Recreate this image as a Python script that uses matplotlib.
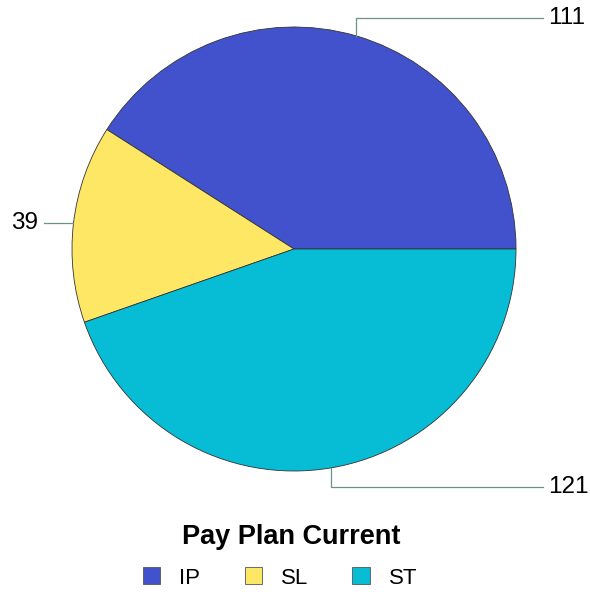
import numpy as np
import matplotlib
matplotlib.use("Agg")
import matplotlib.pyplot as plt

plt.rcParams['font.family'] = ['Liberation Sans', 'DejaVu Sans']

# data
categories = ["IP", "SL", "ST"]
counts = [111, 39, 121]
colors = ["#4252CC", "#FFE766", "#07BDD5"]
leader_color = "#6B918B"

W, H = 590, 592
fig = plt.figure(figsize=(W / 100, H / 100), dpi=100)
ax = fig.add_axes([0, 0, 1, 1])

cx, cy, r = 294, H - 249, 222
wedges, _ = ax.pie(counts, colors=colors, startangle=0, counterclock=True,
                   center=(cx, cy), radius=r, frame=True,
                   wedgeprops=dict(edgecolor="#333333", linewidth=0.6))
ax.set_xlim(0, W)
ax.set_ylim(0, H)
ax.set_aspect("equal")
ax.axis("off")

# leader lines + value labels
for w, val in zip(wedges, counts):
    mid = np.deg2rad((w.theta1 + w.theta2) / 2)
    px, py = cx + r * np.cos(mid), cy + r * np.sin(mid)
    if np.cos(mid) < -0.9:
        ax.plot([px, 44], [py, py], color=leader_color, lw=0.9)
        ax.text(38, py, str(val), ha="right", va="center", fontsize=17.5)
    else:
        ey = H - 18 if np.sin(mid) > 0 else H - 487
        ax.plot([px, px, 543], [py, ey, ey], color=leader_color, lw=0.9)
        ax.text(548, ey, str(val), ha="left", va="center", fontsize=17.5)

ax.text(291, H - 537, "Pay Plan Current", ha="center", va="center",
        fontsize=19.5, fontweight="bold")

leg = ax.legend(wedges, categories, loc="center",
                bbox_to_anchor=(280 / W, 1 - 578 / H),
                ncol=3, frameon=False, fontsize=16,
                handlelength=0.78, handleheight=0.78, handletextpad=0.85,
                columnspacing=2.0)
for h in leg.legend_handles:
    h.set_edgecolor("#555555")
    h.set_linewidth(0.6)

fig.savefig("out.png", dpi=100)
